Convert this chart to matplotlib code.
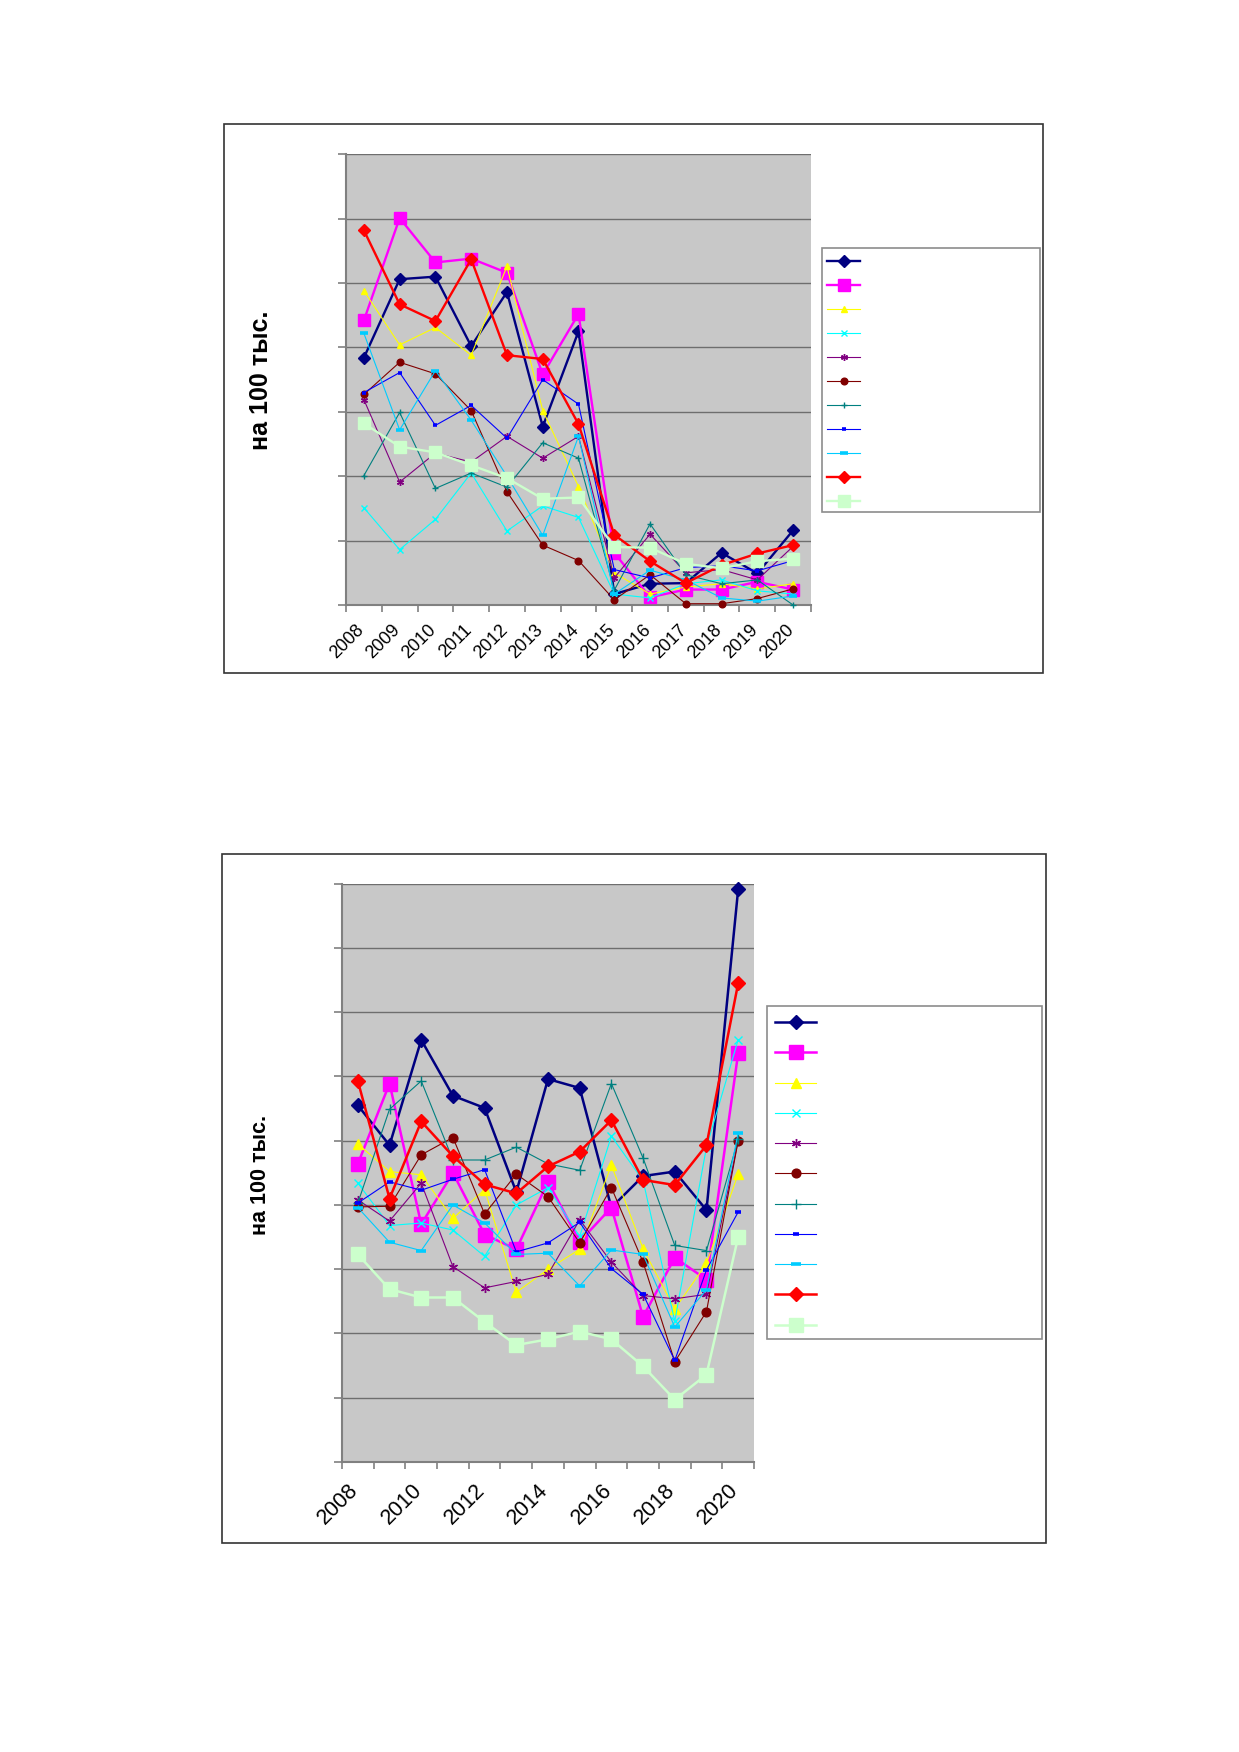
import numpy as np
import matplotlib
matplotlib.use("Agg")
import matplotlib.pyplot as plt
from matplotlib.patches import Rectangle
from matplotlib.transforms import ScaledTranslation

plt.rcParams['font.family'] = ['Liberation Sans', 'DejaVu Sans']

W, H = 1239, 1752
DPI = 100

years = [str(y) for y in range(2008, 2021)]

# ---------- top chart values (grid units, 7 gridline intervals) ----------
top_s1 = [3.84, 5.06, 5.10, 4.02, 4.86, 2.77, 4.25, 0.17, 0.33, 0.34, 0.81, 0.49, 1.16]
top_s2 = [4.42, 6.01, 5.32, 5.38, 5.16, 3.58, 4.52, 0.81, 0.12, 0.24, 0.24, 0.36, 0.24]
top_s3 = [4.88, 4.04, 4.31, 3.88, 5.26, 3.02, 1.84, 0.50, 0.17, 0.28, 0.33, 0.25, 0.33]
top_s4 = [1.51, 0.86, 1.33, 2.05, 1.15, 1.54, 1.36, 0.17, 0.11, 0.33, 0.39, 0.22, 0.17]
top_s5 = [3.19, 1.91, 2.36, 2.22, 2.62, 2.28, 2.62, 0.42, 1.10, 0.50, 0.55, 0.39, 0.91]
top_s6 = [3.27, 3.77, 3.59, 3.02, 1.76, 0.93, 0.69, 0.08, 0.47, 0.02, 0.02, 0.10, 0.25]
top_s7 = [2.01, 2.99, 1.81, 2.05, 1.83, 2.52, 2.28, 0.23, 1.26, 0.47, 0.33, 0.39, 0.00]
top_s8 = [3.30, 3.61, 2.79, 3.10, 2.59, 3.50, 3.12, 0.55, 0.42, 0.58, 0.61, 0.53, 0.69]
top_s9 = [4.22, 2.72, 3.64, 2.87, 2.00, 1.08, 2.62, 0.17, 0.54, 0.39, 0.11, 0.06, 0.14]
top_s10 = [5.82, 4.67, 4.41, 5.37, 3.88, 3.82, 2.81, 1.09, 0.68, 0.34, 0.62, 0.80, 0.93]
top_s11 = [2.82, 2.46, 2.37, 2.17, 1.97, 1.65, 1.67, 0.90, 0.89, 0.64, 0.57, 0.68, 0.72]

# ---------- bottom chart values (grid units, 9 gridline intervals) ----------
bot_s1 = [5.55, 4.93, 6.57, 5.70, 5.51, 4.20, 5.96, 5.82, 3.96, 4.45, 4.52, 3.92, 8.91]
bot_s2 = [4.64, 5.89, 3.70, 4.50, 3.54, 3.31, 4.36, 3.43, 3.96, 2.26, 3.18, 2.84, 6.36]
bot_s3 = [4.95, 4.52, 4.47, 3.79, 4.24, 2.64, 3.00, 3.31, 4.62, 3.32, 2.38, 3.09, 4.48]
bot_s4 = [4.34, 3.68, 3.72, 3.61, 3.20, 4.00, 4.27, 3.51, 5.07, 4.38, 2.19, 4.90, 6.57]
bot_s5 = [4.08, 3.75, 4.34, 3.04, 2.71, 2.81, 2.92, 3.77, 3.11, 2.59, 2.54, 2.61, 5.00]
bot_s6 = [3.97, 3.98, 4.78, 5.05, 3.86, 4.48, 4.13, 3.41, 4.27, 3.11, 1.56, 2.34, 5.00]
bot_s7 = [4.03, 5.49, 5.93, 4.70, 4.70, 4.90, 4.64, 4.54, 5.89, 4.73, 3.37, 3.29, 5.02]
bot_s8 = [4.03, 4.36, 4.23, 4.40, 4.55, 3.27, 3.41, 3.73, 3.01, 2.61, 1.58, 2.99, 3.89]
bot_s9 = [3.96, 3.42, 3.29, 4.00, 3.72, 3.23, 3.25, 2.74, 3.30, 3.23, 2.10, 2.68, 5.12]
bot_s10 = [5.93, 4.10, 5.30, 4.76, 4.32, 4.18, 4.60, 4.83, 5.32, 4.39, 4.31, 4.93, 7.45]
bot_s11 = [3.23, 2.69, 2.56, 2.56, 2.18, 1.82, 1.91, 2.03, 1.91, 1.49, 0.97, 1.36, 3.50]

top_series = [top_s1, top_s2, top_s3, top_s4, top_s5, top_s6, top_s7, top_s8, top_s9, top_s10, top_s11]
bot_series = [bot_s1, bot_s2, bot_s3, bot_s4, bot_s5, bot_s6, bot_s7, bot_s8, bot_s9, bot_s10, bot_s11]

colors = ['#000080', '#FF00FF', '#FFFF00', '#00FFFF', '#800080', '#800000',
          '#008080', '#0000FF', '#00CCFF', '#FF0000', '#CCFFCC']
markers = ['D', 's', '^', 'x', (6, 2, 0), 'o', '+', '_', '_', 'D', 's']
thick = [True, True, False, False, False, False, False, False, False, True, True]

top_ms = [5.8, 8.3, 5.0, 4.5, 5.0, 4.8, 5.0, 3.2, 5.5, 5.8, 8.3]
bot_ms = [7.6, 10.5, 7.0, 6.0, 6.5, 6.3, 6.5, 4.0, 7.0, 7.6, 10.5]

fig = plt.figure(figsize=(W / DPI, H / DPI), dpi=DPI)


def fx(px):
    return px / W


def fy(py):
    return 1 - py / H


def frame(x0, y0, x1, y1, ec, lw):
    fig.add_artist(Rectangle((fx(x0), fy(y1)), fx(x1) - fx(x0), fy(y0) - fy(y1),
                             transform=fig.transFigure, fill=False, ec=ec, lw=lw))


def make_chart(box, series, ymax, ms_list, thick_lw, thin_lw, tick_fs, label_every,
               lab_dx, lab_pad, ylab_pos, ylab_fs, leg_box, leg_first, leg_pitch,
               leg_x, leg_hlen, frame_box):
    x0, y0, x1, y1 = box
    frame(*frame_box, ec='#333333', lw=1.2)
    ax = fig.add_axes([fx(x0), fy(y1), fx(x1) - fx(x0), fy(y0) - fy(y1)])
    ax.set_facecolor('#C8C8C8')
    xs = np.arange(len(years))
    handles = []
    for i, vals in enumerate(series):
        lw = thick_lw if thick[i] else thin_lw
        mew = 1.0
        if markers[i] == '_':
            mew = 2.6
        ln, = ax.plot(xs, vals, color=colors[i], lw=lw, marker=markers[i],
                      ms=ms_list[i], mfc=colors[i], mec=colors[i], mew=mew,
                      clip_on=False, zorder=3 + i)
        handles.append(ln)
    ax.set_xlim(-0.5, len(years) - 0.5)
    ax.set_ylim(0, ymax)
    ax.set_yticks(np.arange(0, ymax + 1))
    ax.set_yticklabels([])
    ax.yaxis.grid(True, color='#6E6E6E', lw=1.0)
    ax.set_axisbelow(True)
    ax.set_xticks(np.arange(-0.5, len(years)))
    ax.set_xticklabels([])
    idx = list(range(0, len(years), label_every))
    ax.set_xticks(idx, minor=True)
    ax.set_xticklabels([years[k] for k in idx], minor=True, rotation=45,
                       ha='right', va='top', rotation_mode='anchor', fontsize=tick_fs)
    ax.tick_params(axis='x', which='minor', length=0, pad=lab_pad)
    ax.tick_params(axis='x', which='major', length=5, width=1.2, color='#808080', direction='out')
    ax.tick_params(axis='y', which='major', length=6, width=1.2, color='#808080', direction='out')
    off = ScaledTranslation(lab_dx / DPI, 0, fig.dpi_scale_trans)
    for lab in ax.get_xticklabels(minor=True):
        lab.set_transform(lab.get_transform() + off)
    for s in ('top', 'right'):
        ax.spines[s].set_visible(False)
    for s in ('left', 'bottom'):
        ax.spines[s].set_color('#808080')
        ax.spines[s].set_linewidth(1.5)
    fig.text(fx(ylab_pos[0]), fy(ylab_pos[1]), 'на 100 тыс.', rotation=90,
             ha='center', va='center', fontsize=ylab_fs, fontweight='bold')

    # legend box
    lx0, ly0, lx1, ly1 = leg_box
    frame(lx0, ly0, lx1, ly1, ec='#8C8C8C', lw=1.2)
    fs = 10
    fs_px = fs * DPI / 72
    spacing = 0.6
    anchor = [fx(leg_x), fy(leg_first - 10)]
    leg = None
    for _ in range(4):
        if leg is not None:
            leg.remove()
        leg = ax.legend(handles, [''] * len(handles), loc='upper left',
                        bbox_to_anchor=anchor, bbox_transform=fig.transFigure,
                        frameon=False, fontsize=fs, handlelength=leg_hlen / fs_px,
                        handletextpad=0.0, borderpad=0.0, borderaxespad=0.0,
                        labelspacing=spacing, handleheight=0.7)
        fig.canvas.draw()
        lines = leg.get_lines()
        pys = []
        pxs = []
        for l in lines:
            xd, yd = l.get_data()
            pts = l.get_transform().transform(np.column_stack([xd, yd]))
            pys.append(H - pts[0, 1])
            pxs.append(pts[0, 0])
        pitch = (pys[-1] - pys[0]) / (len(pys) - 1)
        spacing = spacing + (leg_pitch - pitch) / fs_px
        dy = pys[0] - leg_first
        dx = pxs[0] - leg_x
        anchor = [anchor[0] - dx / W, anchor[1] + dy / H]
    return ax


# top chart
make_chart(box=(346, 154.3, 811, 605), series=top_series, ymax=7, ms_list=top_ms,
           thick_lw=1.7, thin_lw=0.8, tick_fs=13, label_every=1, lab_dx=-8, lab_pad=12,
           ylab_pos=(260.5, 380), ylab_fs=18, leg_box=(821.7, 247.7, 1040.3, 512),
           leg_first=261, leg_pitch=24.0, leg_x=827.3, leg_hlen=33,
           frame_box=(224.3, 124.3, 1043.3, 673.3))

# bottom chart
make_chart(box=(342, 883.7, 754, 1462), series=bot_series, ymax=9, ms_list=bot_ms,
           thick_lw=1.8, thin_lw=0.8, tick_fs=15.5, label_every=2, lab_dx=-10, lab_pad=13,
           ylab_pos=(260.5, 1175), ylab_fs=15.5, leg_box=(767.3, 1005.7, 1041.7, 1339),
           leg_first=1022, leg_pitch=30.27, leg_x=775, leg_hlen=41,
           frame_box=(222.3, 854.3, 1046, 1543.3))

fig.savefig('out.png', dpi=DPI)
